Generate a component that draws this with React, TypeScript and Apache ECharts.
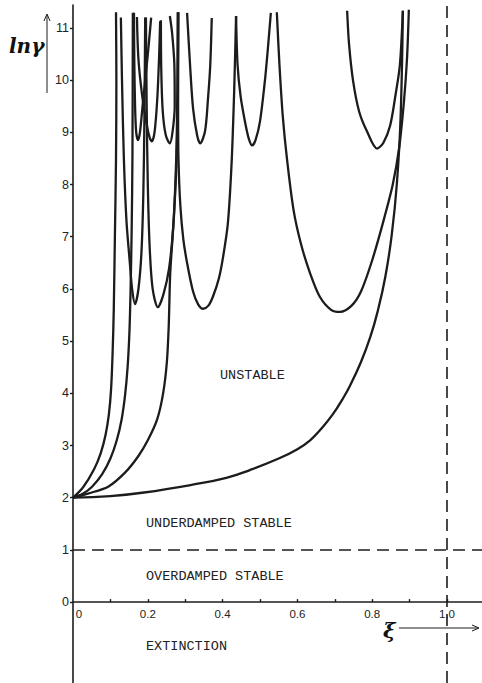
import React, { useEffect, useRef } from "react";
import * as echarts from "echarts";

// ---- axis ticks / labels ----
const xTickValues = [0.1, 0.2, 0.3, 0.4, 0.5, 0.6, 0.7, 0.8, 0.9, 1.0];
const xLabelValues = [0, 0.2, 0.4, 0.6, 0.8, 1.0];
const yTickValues = [0, 1, 2, 3, 4, 5, 6, 7, 8, 9, 10, 11];

// ---- reference lines ----
const overdampedLimit = 1; // ln gamma = 1
const criticalDamping = 1.0; // xi = 1

// ---- boundary curves (xi, ln gamma) ----
const bottomCurve = [
  [0, 2], [0.1, 2.03], [0.19, 2.1], [0.32, 2.25], [0.41, 2.38], [0.473, 2.53], [0.55, 2.75],
  [0.6, 2.93], [0.634, 3.1], [0.665, 3.33], [0.695, 3.6], [0.72, 3.88], [0.741, 4.15],
  [0.77, 4.6], [0.795, 5.08], [0.815, 5.58], [0.835, 6.23], [0.852, 7.02], [0.866, 8.02],
  [0.876, 9.3], [0.882, 11.33],
];
const curveL1 = [
  [0, 2], [0.027, 2.2], [0.056, 2.54], [0.074, 2.85], [0.087, 3.2], [0.096, 3.6],
  [0.102, 4.1], [0.106, 4.8], [0.109, 5.6], [0.112, 7], [0.115, 8.5], [0.116, 10],
  [0.115, 11.3],
];
const curveL2 = [
  [0, 2], [0.025, 2.07], [0.051, 2.21], [0.078, 2.45], [0.1, 2.75], [0.117, 3.1],
  [0.13, 3.5], [0.139, 3.95], [0.146, 4.5], [0.151, 5.2], [0.154, 6.0], [0.157, 7.2],
  [0.159, 8.6], [0.16, 11.29],
];
const curveL3 = [
  [0, 2], [0.04, 2.08], [0.094, 2.21], [0.139, 2.48], [0.174, 2.79], [0.2, 3.1],
  [0.225, 3.5], [0.241, 4.0], [0.251, 4.6], [0.256, 5.3], [0.26, 6.3], [0.27, 7.4],
  [0.277, 8.5], [0.28, 9.8], [0.281, 11.3],
];
const lowerLobe1 = [
  [0.128, 11.2], [0.131, 10], [0.136, 8.5], [0.143, 7.3], [0.152, 6.5], [0.158, 6.0],
  [0.166, 5.71], [0.175, 6.0], [0.183, 6.7], [0.188, 7.8], [0.191, 9.3], [0.193, 11.2],
];
const lowerLobe2 = [
  [0.195, 11.2], [0.197, 9.5], [0.2, 8.0], [0.205, 6.8], [0.213, 6.0], [0.227, 5.65],
  [0.242, 5.9], [0.257, 6.4], [0.268, 7.2], [0.276, 8.5], [0.279, 9.8], [0.28, 11.3],
];
const lowerLobe3 = [
  [0.282, 11.3], [0.281, 9.5], [0.282, 8.5], [0.287, 7.6], [0.295, 6.95], [0.305, 6.5],
  [0.321, 5.95], [0.335, 5.7], [0.348, 5.62], [0.362, 5.68], [0.374, 5.85], [0.39, 6.2],
  [0.401, 6.6], [0.414, 7.25], [0.424, 8.4], [0.431, 9.8], [0.436, 11.23],
];
const lowerLobe4 = [
  [0.545, 11.3], [0.552, 10.3], [0.561, 9.3], [0.572, 8.5], [0.59, 7.5], [0.61, 6.85],
  [0.634, 6.3], [0.66, 5.85], [0.69, 5.6], [0.714, 5.56], [0.745, 5.68], [0.77, 5.95],
  [0.8, 6.55], [0.83, 7.3], [0.855, 8.0], [0.872, 8.7], [0.885, 9.6], [0.893, 10.4],
  [0.898, 11.35],
];
const upperLobe1 = [
  [0.163, 11.29], [0.164, 10.3], [0.166, 9.5], [0.169, 9.0], [0.174, 8.85], [0.179, 9.0],
  [0.186, 9.5], [0.196, 10.2], [0.204, 10.8], [0.209, 11.2],
];
const upperLobe2 = [
  [0.171, 11.21], [0.175, 10.4], [0.185, 9.7], [0.197, 9.15], [0.205, 8.9], [0.211, 8.83],
  [0.218, 9.0], [0.225, 9.6], [0.23, 10.4], [0.233, 11.13],
];
const upperLobe3 = [
  [0.235, 11.15], [0.236, 10.2], [0.24, 9.4], [0.248, 8.95], [0.259, 8.79], [0.266, 9.0],
  [0.272, 9.5], [0.271, 10.3], [0.265, 10.9], [0.259, 11.23],
];
const upperLobe4 = [
  [0.305, 11.29], [0.313, 10.29], [0.321, 9.46], [0.332, 8.94], [0.34, 8.79], [0.353, 9.02],
  [0.361, 9.65], [0.367, 10.29], [0.371, 11.19],
];
const upperLobe5 = [
  [0.436, 11.23], [0.44, 10.3], [0.448, 9.7], [0.46, 9.2], [0.47, 8.88], [0.479, 8.75],
  [0.488, 8.85], [0.5, 9.21], [0.513, 9.98], [0.521, 10.6], [0.529, 11.29],
];
const upperLobe6 = [
  [0.733, 11.33], [0.738, 10.7], [0.749, 9.98], [0.765, 9.4], [0.786, 9.02], [0.813, 8.69],
  [0.83, 8.8], [0.848, 9.13], [0.862, 9.7], [0.874, 10.29], [0.882, 11.33],
];

const curves = [
  bottomCurve, curveL1, curveL2, curveL3,
  lowerLobe1, lowerLobe2, lowerLobe3, lowerLobe4,
  upperLobe1, upperLobe2, upperLobe3, upperLobe4, upperLobe5, upperLobe6,
];

const regionLabels = ["UNSTABLE", "UNDERDAMPED STABLE", "OVERDAMPED STABLE", "EXTINCTION"];

const INK = "#1c1c1c";
const Y_MIN = -1.55;
const Y_MAX = 11.44;
const GRID_TOP = 5;
const GRID_H = 678;

export default function App() {
  const ref = useRef<HTMLDivElement>(null);

  useEffect(() => {
    document.body.style.margin = "0";
    const chart = echarts.init(ref.current!, null, { renderer: "svg" });

    const regionFont = {
      fontFamily: "Liberation Mono",
      fontSize: 13.5,
      fill: "#222",
    };

    // distance from grid bottom up to the y = 0 line
    const zeroOffset = ((0 - Y_MIN) / (Y_MAX - Y_MIN)) * GRID_H;

    const series: any[] = curves.map((c, i) => ({
      type: "line",
      data: c,
      symbol: "none",
      showSymbol: false,
      smooth: i === 0 ? 0.45 : 0.3,
      silent: true,
      lineStyle: { color: INK, width: 2.3 },
      ...(i === 0
        ? {
            markLine: {
              silent: true,
              symbol: ["none", "none"],
              label: { show: false },
              lineStyle: { color: INK, width: 1.6, type: [12, 7] },
              data: [{ yAxis: overdampedLimit }, { xAxis: criticalDamping }],
            },
          }
        : {}),
    }));

    chart.setOption({
      animation: false,
      backgroundColor: "#ffffff",
      grid: {
        left: 73,
        right: 0,
        top: GRID_TOP,
        height: GRID_H,
        containLabel: false,
        outerBoundsMode: "none",
      },
      xAxis: {
        type: "value",
        min: 0,
        max: 1.0936,
        offset: -zeroOffset,
        axisLine: { onZero: false, lineStyle: { color: INK, width: 1.6 } },
        axisTick: {
          show: true,
          length: 3,
          inside: true,
          customValues: xTickValues,
          lineStyle: { color: INK, width: 1.4 },
        },
        axisLabel: {
          customValues: xLabelValues,
          margin: 6,
          fontFamily: "Liberation Sans",
          fontSize: 11.5,
          color: "#222",
          formatter: (v: number) => (v === 0 ? "{z|0}" : v.toFixed(1)),
          rich: { z: { padding: [0, 0, 0, 12], fontFamily: "Liberation Sans", fontSize: 11.5, color: "#222" } },
        },
        splitLine: { show: false },
      },
      yAxis: {
        type: "value",
        min: Y_MIN,
        max: Y_MAX,
        axisLine: { onZero: false, lineStyle: { color: INK, width: 1.6 } },
        axisTick: {
          show: true,
          length: 3,
          customValues: yTickValues,
          lineStyle: { color: INK, width: 1.4 },
        },
        axisLabel: {
          customValues: yTickValues,
          margin: 4,
          fontFamily: "Liberation Sans",
          fontSize: 12.5,
          color: "#222",
        },
        splitLine: { show: false },
      },
      series,
      graphic: [
        {
          type: "text",
          left: 9,
          top: 36,
          style: {
            text: "lnγ",
            fontFamily: "DejaVu Serif",
            fontStyle: "italic",
            fontWeight: "bold",
            fontSize: 20,
            fill: "#111",
          },
        },
        { type: "line", shape: { x1: 47, y1: 93, x2: 47, y2: 15 }, style: { stroke: INK, lineWidth: 1 } },
        { type: "polyline", shape: { points: [[44, 21], [47, 14], [50, 21]] }, style: { stroke: INK, lineWidth: 1, fill: "none" } },
        {
          type: "text",
          x: 383,
          y: 620,
          style: {
            text: "ξ",
            fontFamily: "DejaVu Serif",
            fontStyle: "italic",
            fontWeight: "bold",
            fontSize: 21,
            fill: "#111",
          },
        },
        { type: "line", shape: { x1: 399, y1: 628, x2: 478, y2: 628 }, style: { stroke: INK, lineWidth: 1 } },
        { type: "polyline", shape: { points: [[472, 625], [479, 628], [472, 631]] }, style: { stroke: INK, lineWidth: 1, fill: "none" } },
        { type: "text", x: 220, y: 368, style: { text: regionLabels[0], ...regionFont } },
        { type: "text", x: 146, y: 516, style: { text: regionLabels[1], ...regionFont } },
        { type: "text", x: 146, y: 569, style: { text: regionLabels[2], ...regionFont } },
        { type: "text", x: 146, y: 639, style: { text: regionLabels[3], ...regionFont } },
      ],
    });

    return () => chart.dispose();
  }, []);

  return <div ref={ref} style={{ width: 482, height: 683 }} />;
}
